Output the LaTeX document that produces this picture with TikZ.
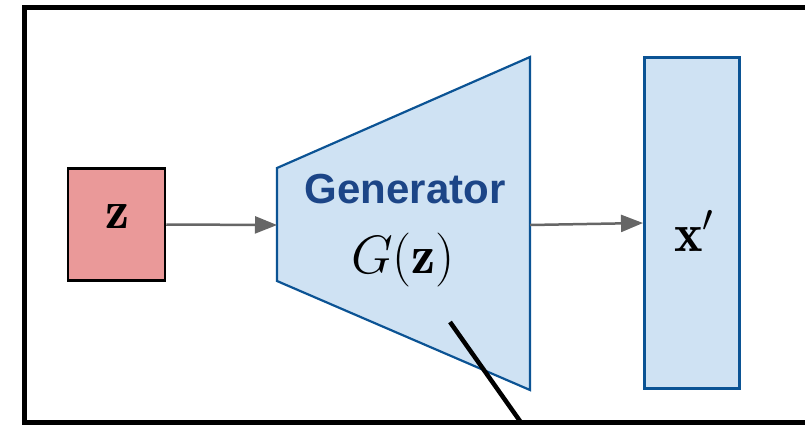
\RequirePackage{fix-cm}
\documentclass[tikz,border=0pt]{standalone}
\usepackage{amsmath}
\usepackage{fontspec}
\usetikzlibrary{arrows.meta,positioning}
\newfontfamily\gensans{Liberation Sans}
\definecolor{zred}{HTML}{EA9999}
\definecolor{genfill}{HTML}{CFE2F3}
\definecolor{genline}{HTML}{0B5394}
\definecolor{gentext}{HTML}{1C4587}
\definecolor{flowgray}{HTML}{666666}

\begin{document}
\begin{tikzpicture}[x=1pt,y=-1pt,font=\fontsize{54}{60}\selectfont,
  flow/.style={flowgray, line width=2.5pt, -{Triangle[length=22pt,width=17pt]}},
  box/.style={line width=2.5pt, inner sep=0pt}]
\useasboundingbox (0,0) rectangle (805,424);
\clip (0,0) rectangle (805,424);
\draw[line width=5pt] (24.5,7) rectangle (840,422);

\node[box, draw=black, fill=zred, minimum width=97pt, minimum height=112pt] (z) at (116.5,224.5) {};
\node[anchor=base] (zlabel) at (117,228) {$\mathbf{z}$};

\coordinate (gen tl) at (277,168);
\coordinate (gen tr) at (530,57);
\coordinate (gen br) at (530,390);
\coordinate (gen bl) at (277,281);
\draw[genline, fill=genfill, line width=2.2pt] (gen tl) -- (gen tr) -- (gen br) -- (gen bl) -- cycle;
\coordinate (gen in) at (277,225);
\coordinate (gen out) at (530,225);
\node[anchor=base, text=gentext, font=\gensans\bfseries\fontsize{42}{46}\selectfont] (gentitle) at (405,203) {Generator};
\node[anchor=base] (genfn) at (403,273) {$G(\mathbf{z})$};

\node[box, line width=3pt, draw=genline, fill=genfill, minimum width=95pt, minimum height=331pt] (xp) at (692,223) {};
\node[anchor=base] (xplabel) at (694,251) {$\mathbf{x}'$};

\draw[flow] (z.east) -- (gen in);
\draw[flow] (gen out) -- (xp.west);

\coordinate (pointer tip) at (450,322);
\coordinate (pointer end) at (527,431);
\draw[line width=4.5pt] (pointer tip) -- (pointer end);
\end{tikzpicture}
\end{document}
